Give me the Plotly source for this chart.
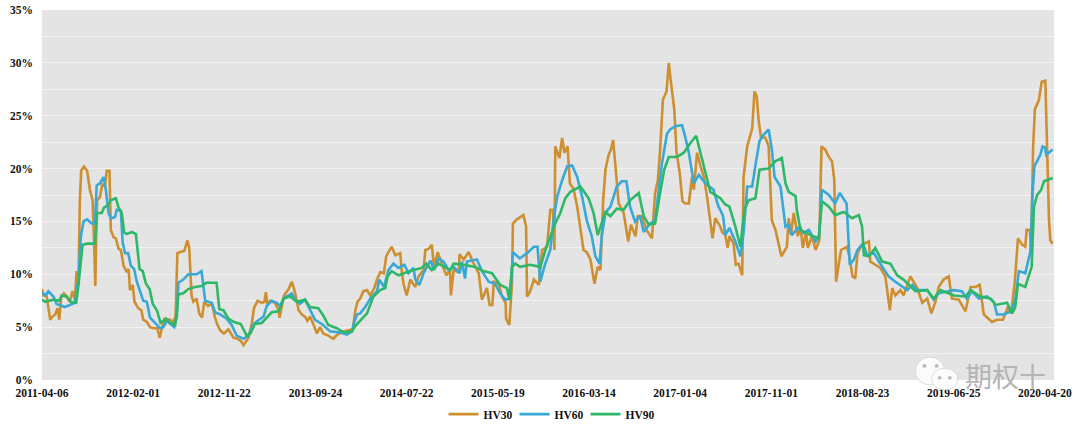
import plotly.graph_objects as go

tick_days = [0, 200, 400, 600, 800, 1000, 1200, 1400, 1600, 1800, 2000, 2200]
tick_labels = ["2011-04-06", "2012-02-01", "2012-11-22", "2013-09-24", "2014-07-22", "2015-05-19",
               "2016-03-14", "2017-01-04", "2017-11-01", "2018-08-23", "2019-06-25", "2020-04-20"]

hv30_days = [0,3,10,15,18,23,29,34,38,42,48,54,61,67,72,76,80,83,86,92,99,105,111,115,117,119,121,127,132,138,142,148,151,157,162,168,173,179,186,190,193,199,203,211,218,222,230,237,244,253,258,263,269,281,288,293,297,303,312,319,323,328,332,339,345,351,356,364,373,379,385,391,399,409,420,429,436,442,453,460,465,473,482,488,491,494,500,511,519,521,526,531,541,548,555,563,570,577,582,588,596,603,610,617,628,639,648,661,682,687,692,698,
705,713,720,729,735,742,750,755,760,767,775,786,789,793,800,808,819,826,837,841,848,855,860,868,877,887,895,897,903,914,916,925,936,947,958,965,976,982,988,991,1002,1009,1017,1018,1025,1031,1033,1042,1056,1062,1064,1071,1079,1090,1097,1108,1115,1121,1124,1126,1135,1141,1146,1153,1158,1166,1174,1181,1188,1195,1203,1212,1219,1225,1231,1236,1243,1248,1253,1258,1265,1276,1286,1292,1302,1307,1316,1326,1338,1345,1351,1356,1362,1370,1375,1379,1382,1387,1392,1399,1405,1411,1419,1426,1430,1437,1444,1452,1459,1466,1471,1477,1488,
1492,1499,1504,1508,1517,1522,1528,1536,1539,1547,1558,1563,1568,1572,1577,1587,1594,1598,1601,1609,1616,1622,1634,1638,1643,1649,1658,1664,1669,1676,1680,1689,1697,1705,1710,1718,1726,1733,1738,1742,1748,1753,1766,1771,1778,1784,1789,1799,1814,1817,1828,1839,1850,1860,1865,1872,1883,1890,1905,1920,1931,1942,1951,1960,1967,1978,1989,1996,2011,2026,2037,2048,2057,2066,2084,2095,2108,2119,2126,2134,2141,2150,2157,2160,2167,2170,2174,2178,2187,2193,2201,2206,2209,2212,2217]
hv30_vals = [8.6,8.0,8.0,6.5,5.7,6.0,6.2,6.8,5.7,7.8,8.2,7.9,7.4,8.4,7.6,10.3,9,17,19.8,20.2,19.8,18,17,12,8.9,14,17,17.3,18.5,18.3,19.8,19.8,14.2,13.5,13.4,12.4,12.3,10.8,10.2,10.5,8.5,9,7.4,6.8,6.6,5.7,5.5,5.0,4.9,4.9,4.0,4.9,5.8,5.7,5.5,6,12,12.1,12.2,13.2,12.5,8,7.4,7.7,6.3,5.9,7.4,7,7.2,6,5.2,4.7,4.4,4.8,4.0,3.9,3.7,3.3,4,5.3,6.8,7.5,7.3,7.4,8.3,7.2,7.5,7.3,6.6,5.9,7,8,8.6,9.3,8.3,6.6,6.2,6,5.6,6,5.2,4.4,5,4.4,4.2,3.9,4.3,4.6,4.8,6.5,7.4,7.7,
8.4,8.5,8.0,8.7,9.5,10.2,10.1,11.7,12.1,12.6,11.8,12,10.3,9.1,8.0,9.5,8.8,9.8,10.4,12.3,12.4,12.8,10.7,12.1,11,9.9,10.4,8,10.4,10.2,11.9,11.4,12.1,11,10.1,7.6,8.7,7.1,7.1,9.3,9.1,7.9,7.3,5.8,5.2,9.1,14.8,15.2,15.6,14.5,7.9,8.4,9.5,9,12.3,12.6,16.1,16.1,12.3,22.1,21,22.9,21.5,22.1,18.6,18.1,16.4,14.5,12.3,12.1,11.4,9.1,10.7,10.4,17,19.9,21.3,21.8,22.7,20.2,16.7,15.8,13.1,14.7,13.6,15.5,15.5,14.2,13.4,17.7,18.9,21.8,26.5,27.3,30,28.4,27.4,25.6,21.5,19.6,16.9,16.7,16.7,19.2,18,21.5,20.3,19.2,17.3,15.1,13.4,15.3,14.5,
14,13.7,12.5,13.6,12.9,10.9,11,9.9,19.2,22.1,23.8,27.3,26.8,24.6,23,22.9,22.1,18.3,15.1,14.2,12.9,11.7,12.6,15.3,13.7,15.8,13.6,14.5,12.5,14,12.5,13.6,12.3,13.2,22.1,21.8,21.1,20.7,18.9,9.3,11,12.3,12.6,11.7,9.8,9.6,12,12.8,13.1,11.2,10.9,10.6,9.8,6.6,8.7,8,8.5,8,9.8,8.7,7.3,7.7,6.3,7.4,8.8,9.5,9.8,7.7,7.6,6.5,8.8,8.8,9,6.2,5.5,5.7,5.7,6.9,6.3,9.3,13.4,12.8,12.6,14.2,14.2,12.6,21.8,25.6,26.5,28.2,28.3,18,15.1,13.2,12.9]

hv60_days = [0,7,14,25,32,43,50,61,72,80,85,91,99,109,116,120,127,135,140,146,151,160,164,173,177,182,189,195,202,208,215,222,230,237,248,259,266,274,290,296,299,310,321,339,350,358,372,380,391,405,416,427,442,453,464,479,486,493,504,515,522,530,548,555,566,577,588,599,614,632,654,669,680,685,691,698,
709,720,735,740,750,760,771,782,795,804,815,819,828,837,852,860,870,881,892,903,916,921,928,932,954,965,980,994,1005,1016,1027,1033,1048,1064,1079,1087,1093,1104,1115,1122,1130,1141,1152,1163,1174,1185,1195,1206,1214,1223,1228,1236,1247,1261,1272,1282,1290,1301,1312,1320,1334,1345,1353,1360,1371,1378,1389,1404,1411,1419,1430,1441,1455,1473,1484,1488,
1494,1499,1508,1521,1532,1539,1547,1558,1565,1574,1583,1594,1601,1607,1620,1631,1638,1645,1658,1671,1682,1697,1705,1711,1726,1740,1750,1765,1772,1781,1789,1801,1810,1825,1839,1857,1872,1887,1898,1909,1920,1942,1956,1967,1985,2000,2018,2029,2040,2055,2073,2088,2095,2110,2125,2135,2143,2157,2168,2173,2177,2190,2195,2200,2203,2217]
hv60_vals = [8.3,8.0,8.4,7.9,7.2,7.0,6.9,7.1,7.3,9.5,13.5,15,15.2,14.8,14.8,18.4,18.6,19.2,18,15.8,15.3,15.4,16.1,16,13,12,12,10.8,10.5,9.3,8.5,7.5,7.4,5.9,5.4,4.9,5,5.6,5.0,6,9.2,9.5,10,10,10.3,7.5,7.3,6.4,6.2,5.8,5.2,4.2,3.9,4.2,5.3,5.8,6,7,7.5,7.3,7,7.7,8.2,7.6,7.2,7.6,6.7,5.7,5.3,4.6,4.5,4.3,4.6,5.5,6.2,6.3,
6.9,7.7,8.4,9.5,8.8,10.4,11,10.6,10.9,10.1,10.6,9.5,9,10.1,11.3,10.4,11.5,11.2,10.4,10.7,10.1,11.2,9.6,11.2,11.4,10.3,9.3,9.1,8.2,7.6,7.7,12.1,11.5,12,12.6,12.6,9.3,11,12.3,15.1,17.3,18.9,20.2,20.3,19.2,17.3,15.1,13.6,11.7,11,13.6,15.8,16.4,18.3,18.8,18.8,16.4,15,15.5,14,14.8,15.1,18,20.5,23.3,23.7,24,24.1,23,21.5,18.6,19.4,18.6,18,16.4,16.1,
15.5,13.7,14.4,13.1,11.7,13.9,18.3,18.3,20.3,22.6,23.2,23.7,21.8,19.2,18.3,14.5,14.7,13.7,14.4,13.9,14.2,13.1,13.7,18,17.5,16.7,17.7,16.7,10.9,11.4,12.3,12.9,11.8,12,11,9.8,9.3,8.8,8.5,9,8.5,8.5,7.6,8.2,8.4,8.5,8.4,7.7,8.4,7.7,7.9,7.4,6.2,6.2,6.5,7.6,10.3,10.1,12.1,17.7,20.2,21.3,22.1,22,21.3,21.8]

hv90_days = [0,7,25,38,43,54,63,75,80,85,89,99,116,121,131,136,143,151,162,168,175,180,186,197,206,214,221,228,236,243,252,260,272,281,292,296,299,310,321,336,350,361,383,389,398,409,420,436,449,457,467,482,493,504,519,530,544,559,577,588,606,617,628,647,661,680,687,698,
713,727,742,753,758,767,782,808,833,843,855,870,895,903,925,950,968,987,1005,1020,1025,1031,1038,1049,1071,1093,1108,1119,1126,1137,1148,1159,1181,1199,1210,1219,1228,1236,1247,1261,1276,1290,1309,1320,1331,1345,1356,1365,1375,1393,1408,1422,1435,1444,1459,1466,1488,
1499,1508,1521,1532,1541,1550,1565,1574,1594,1609,1623,1631,1638,1653,1656,1664,1686,1704,1711,1726,1740,1759,1777,1792,1799,1803,1814,1828,1843,1861,1876,1890,1916,1942,1956,1971,2000,2026,2037,2059,2081,2092,2117,2128,2135,2141,2157,2171,2176,2183,2192,2198,2217]
hv90_vals = [7.6,7.4,7.6,7.5,8,7.9,7.4,7.3,9,11.5,12.8,12.9,12.9,15.8,15.8,16.3,16.5,17,17.2,16.3,15.8,14,13.8,14,13.8,10.5,10.3,9.1,8.6,7.2,6.6,5.4,5.8,5.4,5.2,6.5,8.1,8.2,8.6,8.8,8.9,9.2,9.2,6.7,6.6,5.8,5.5,5.3,4.2,4.4,5.3,5.4,5.9,6.4,6.5,7.7,7.9,7.4,7.6,6.9,6.8,6.1,5.2,4.9,4.5,4.6,5.1,5.6,
6.3,7.9,8.5,8.7,9.8,10.3,9.9,10.3,10.6,11,10.4,11,10.4,11,10.9,10.7,10.3,10.1,9,8.7,7.6,10.7,11,10.7,10.9,10.7,12.8,14,14.8,15.8,17.2,17.8,18.3,17.2,15.8,13.7,14.8,15.9,15.5,16.2,16.1,17,17.7,15.5,14.7,14.8,17.7,19.9,21.1,21.1,21.5,22.4,23.1,21.5,18.9,17.8,17.2,
16.6,16.4,14.5,12.6,16.1,17,17.2,19.9,20,20.7,21,18.6,17.8,17.4,16,14.2,13.7,13.4,16.9,16.4,15.6,15.9,15.3,15.6,14.5,11.8,11.7,12.5,11.2,11,9.9,9.5,8.4,8.5,7.7,8.5,8,7.9,8.5,7.9,7.7,7.1,7.3,6.3,6.9,9.1,8.8,10.7,16.4,17.5,18,18.8,19.1]

series = [("HV30", hv30_days, hv30_vals, "#CE8F30"),
          ("HV60", hv60_days, hv60_vals, "#38A9D6"),
          ("HV90", hv90_days, hv90_vals, "#2DB867")]

font = dict(family="Liberation Serif", size=11.5, color="#111111")
fig = go.Figure()
for name, d, v, c in series:
    fig.add_trace(go.Scatter(x=d, y=v, name=name, mode="lines", line=dict(color=c, width=2.6)))

y_ticks = [i * 2.5 for i in range(15)]
y_text = [f"<b>{int(t)}%</b>" if t % 5 == 0 else "" for t in y_ticks]

logo_big = dict(x0=0.863, x1=0.892, y0=-0.0135, y1=0.062)
logo_small = dict(x0=0.879, x1=0.905, y0=-0.027, y1=0.032)
logo_dots = [(0.872, 0.038), (0.884, 0.038), (0.887, 0.006), (0.897, 0.006)]
shapes = [dict(type="circle", xref="paper", yref="paper", fillcolor="#FBFBFB",
               line=dict(color="#C8C8C8", width=0.6), layer="above", **b) for b in (logo_big, logo_small)]
shapes += [dict(type="circle", xref="paper", yref="paper", x0=a - 0.002, x1=a + 0.002, y0=b - 0.005, y1=b + 0.005,
                fillcolor="#BDBDBD", line=dict(width=0), layer="above") for a, b in logo_dots]

fig.update_layout(
    width=1080, height=440, margin=dict(l=42, r=26, t=10, b=60),
    paper_bgcolor="white", plot_bgcolor="#E4E4E4", font=font,
    showlegend=True,
    legend=dict(orientation="h", x=0.502, xanchor="center", y=-0.053, yanchor="top",
                font=dict(family="Liberation Serif", size=11.5, weight="bold"),
                itemwidth=30, entrywidth=26, entrywidthmode="pixels"),
    xaxis=dict(range=[0, 2220], tickmode="array", tickvals=tick_days,
               ticktext=[f"<b>{t}</b>" for t in tick_labels], tickangle=0, showgrid=False, zeroline=False,
               ticks="", showline=False, automargin=False, ticklabelstandoff=4),
    yaxis=dict(range=[0, 35], tickmode="array", tickvals=y_ticks, ticktext=y_text, gridcolor="#F2F2F2",
               gridwidth=1, zeroline=False, ticks="", showline=False, automargin=False, ticklabelstandoff=8),
    annotations=[dict(text="期权十", xref="paper", yref="paper", x=0.952, y=0.0135, xanchor="center", yanchor="middle",
                      showarrow=False, font=dict(family="Noto Sans CJK SC", size=27, color="#B4B4B4"))],
    shapes=shapes,
)
fig.write_html("out.html", config=dict(displayModeBar=False),
               post_script="document.body.style.margin='0';document.body.style.overflow='hidden';document.documentElement.style.overflow='hidden';")
